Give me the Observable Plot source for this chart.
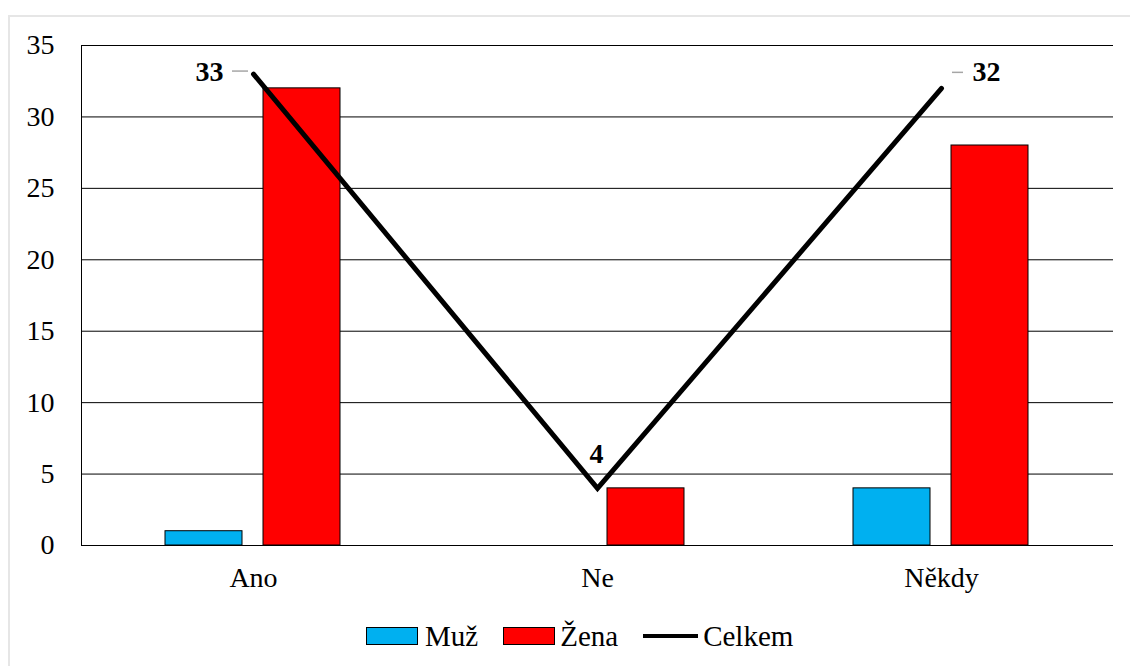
<!DOCTYPE html>
<html><head><meta charset="utf-8">
<script src="https://cdn.jsdelivr.net/npm/d3@7"></script>
<script src="https://cdn.jsdelivr.net/npm/@observablehq/plot@0.6"></script>
<style>
body{margin:0;background:#fff;width:1130px;height:666px;overflow:hidden;position:relative;font-family:"Liberation Serif","Times New Roman",serif;}
#frame{position:absolute;left:8px;top:15px;width:1200px;height:800px;border:2px solid #e6e6e6;box-sizing:border-box}
#chart{position:absolute;left:0;top:0}
#legend{position:absolute;left:366px;top:621px;display:flex;align-items:center;font-size:29px;line-height:30px;color:#000}
.sw{width:50px;height:16px;border:1px solid #000;box-sizing:content-box}
.ln{width:55px;height:4px;background:#000}
</style></head><body>
<div id="frame"></div>
<div id="chart"></div>
<div id="legend"></div>
<script>
const categories = ["Ano", "Ne", "Někdy"];
const muz = [1, 0, 4];
const zena = [32, 4, 28];
const celkem = [33, 4, 32];
const yTicks = [0, 5, 10, 15, 20, 25, 30, 35];
const seriesNames = ["Muž", "Žena", "Celkem"];
const seriesColors = ["#00B0F0", "#FF0000", "#000000"];

const muzRows = categories.map((c, i) => ({cat: c, value: muz[i]}));
const zenaRows = categories.map((c, i) => ({cat: c, value: zena[i]}));
const totalRows = categories.map((c, i) => ({cat: c, value: celkem[i]}));

const labelFont = {fontFamily: "Liberation Serif", fontSize: 28, fontWeight: "bold", fill: "#000"};

const chart = Plot.plot({
  width: 1130,
  height: 610,
  marginLeft: 81,
  marginRight: 17,
  marginTop: 45,
  marginBottom: 65,
  style: {fontFamily: "Liberation Serif", fontSize: "28px", color: "#000", background: "transparent"},
  x: {type: "band", domain: categories, padding: 0},
  y: {domain: [0, 35]},
  marks: [
    Plot.gridY(yTicks, {stroke: "#000", strokeOpacity: 1, strokeWidth: 1}),
    Plot.frame({anchor: "left", stroke: "#000", strokeWidth: 1}),
    Plot.barY(muzRows, {x: "cat", y: "value", filter: d => d.value > 0, fill: seriesColors[0], stroke: "#000", strokeWidth: 1, insetLeft: 84, insetRight: 183}),
    Plot.barY(zenaRows, {x: "cat", y: "value", filter: d => d.value > 0, fill: seriesColors[1], stroke: "#000", strokeWidth: 1, insetLeft: 182, insetRight: 85}),
    Plot.line(totalRows, {x: "cat", y: "value", stroke: seriesColors[2], strokeWidth: 5, strokeLinejoin: "miter", strokeMiterlimit: 10}),
    Plot.tickY(totalRows.slice(0, 1), {x: "cat", y: "value", stroke: "#a6a6a6", strokeWidth: 1.5, insetLeft: 151, insetRight: 177, dy: -3}),
    Plot.tickY(totalRows.slice(2, 3), {x: "cat", y: "value", stroke: "#a6a6a6", strokeWidth: 1.5, insetLeft: 183, insetRight: 150, dy: -16}),
    Plot.text(totalRows.slice(0, 1), {x: "cat", y: "value", text: d => String(d.value), textAnchor: "end", dx: -30, dy: -2, ...labelFont}),
    Plot.text(totalRows.slice(1, 2), {x: "cat", y: "value", text: d => String(d.value), textAnchor: "middle", dx: -1, dy: -34, ...labelFont}),
    Plot.text(totalRows.slice(2, 3), {x: "cat", y: "value", text: d => String(d.value), textAnchor: "start", dx: 31, dy: -16, ...labelFont}),
    Plot.axisY(yTicks, {tickSize: 0, tickPadding: 27, fontSize: 28, label: null}),
    Plot.axisX({tickSize: 0, tickPadding: 22, fontSize: 28, label: null})
  ]
});
document.getElementById("chart").appendChild(chart);

const legend = document.getElementById("legend");
seriesNames.forEach((name, i) => {
  const item = document.createElement("div");
  item.style.display = "flex";
  item.style.alignItems = "center";
  item.style.marginRight = i < seriesNames.length - 1 ? "25px" : "0";
  const sym = document.createElement("div");
  if (i < 2) { sym.className = "sw"; sym.style.background = seriesColors[i]; }
  else { sym.className = "ln"; }
  sym.style.marginRight = i === 0 ? "7px" : "5px";
  const t = document.createElement("span");
  t.textContent = name;
  item.appendChild(sym);
  item.appendChild(t);
  legend.appendChild(item);
});
</script>
</body></html>
